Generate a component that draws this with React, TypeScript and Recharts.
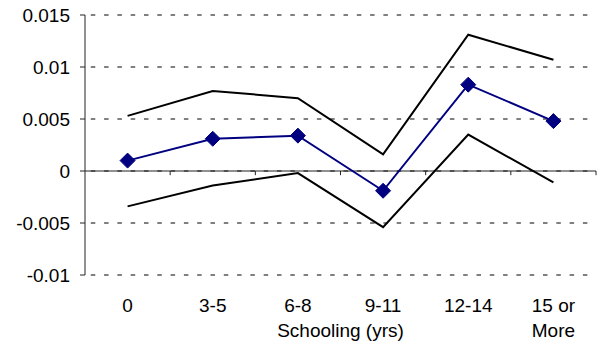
import { LineChart, Line, XAxis, YAxis, CartesianGrid, ReferenceLine } from 'recharts'

const categories = ['0', '3-5', '6-8', '9-11', '12-14', '15 or|More']
const estimate = [0.001, 0.0031, 0.0034, -0.0019, 0.0083, 0.0048]
const upperBound = [0.0053, 0.0077, 0.007, 0.0016, 0.0131, 0.0107]
const lowerBound = [-0.0034, -0.0014, -0.0002, -0.0054, 0.0035, -0.0011]
const yTicks = [-0.01, -0.005, 0, 0.005, 0.01, 0.015]

const data = categories.map((label, i) => ({
  pos: i + 0.5,
  label,
  estimate: estimate[i],
  upper: upperBound[i],
  lower: lowerBound[i],
}))

const xTicks = data.map((d) => d.pos)
const boundaries = categories.map((_, i) => i + 1)

const FONT = 'Liberation Sans, Arial, sans-serif'

const CategoryTick = (props: any) => {
  const { x, y, payload } = props
  const idx = Math.round(payload.value - 0.5)
  const lines = (categories[idx] || '').split('|')
  return (
    <text x={x} y={y} textAnchor="middle" fill="#000" fontSize={19} fontFamily={FONT}>
      {lines.map((line, i) => (
        <tspan key={i} x={x} dy={i === 0 ? 37 : 25}>
          {line}
        </tspan>
      ))}
    </text>
  )
}

const Diamond = (props: any) => {
  const { cx, cy } = props
  if (cx == null || cy == null) return null
  const r = 7.5
  return (
    <polygon
      points={`${cx},${cy - r} ${cx + r},${cy} ${cx},${cy + r} ${cx - r},${cy}`}
      fill="#000080"
      stroke="#000080"
    />
  )
}

export default function App() {
  return (
    <div style={{ position: 'absolute', left: 0, top: 0, width: 597, height: 343, background: '#fff' }}>
      <LineChart width={597} height={343} data={data} margin={{ top: 15, right: 1, bottom: 0, left: 0 }}>
        <CartesianGrid vertical={false} stroke="#000" strokeDasharray="4.5 8.8" strokeDashoffset={7.5} />
        <XAxis
          dataKey="pos"
          type="number"
          domain={[0, 6]}
          ticks={xTicks}
          interval={0}
          axisLine={false}
          tickLine={false}
          tickSize={0}
          tickMargin={0}
          height={68}
          tick={<CategoryTick />}
          label={{ value: 'Schooling (yrs)', position: 'insideBottom', offset: 6, fontSize: 19, fill: '#000', fontFamily: FONT }}
        />
        <YAxis
          domain={[-0.01, 0.015]}
          ticks={yTicks}
          interval={0}
          width={85}
          tickSize={5}
          tickMargin={10}
          stroke="#222"
          tick={{ fill: '#000', fontSize: 19, fontFamily: FONT }}
        />
        <ReferenceLine y={0} stroke="#222" />
        {boundaries.map((b) => (
          <ReferenceLine
            key={b}
            segment={[
              { x: b, y: 0 },
              { x: b, y: -0.0004 },
            ]}
            stroke="#222"
          />
        ))}
        <Line dataKey="upper" stroke="#000" strokeWidth={2} dot={false} isAnimationActive={false} />
        <Line dataKey="lower" stroke="#000" strokeWidth={2} dot={false} isAnimationActive={false} />
        <Line
          dataKey="estimate"
          stroke="#000080"
          strokeWidth={2}
          dot={<Diamond />}
          isAnimationActive={false}
        />
      </LineChart>
    </div>
  )
}
